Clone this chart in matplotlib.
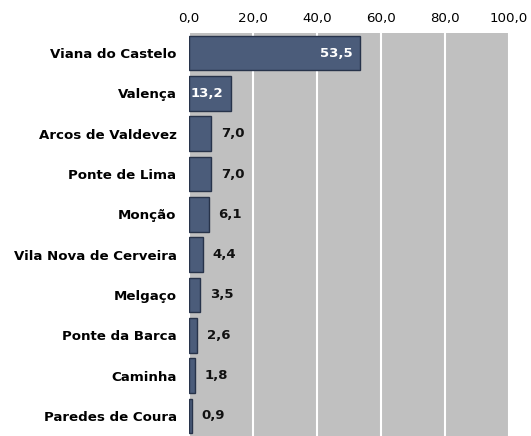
import matplotlib.pyplot as plt
import numpy as np

plt.rcParams['font.family'] = ['DejaVu Sans']

concelhos = ["Viana do Castelo", "Valença", "Arcos de Valdevez", "Ponte de Lima",
             "Monção", "Vila Nova de Cerveira", "Melgaço", "Ponte da Barca",
             "Caminha", "Paredes de Coura"]
valores = [53.5, 13.2, 7.0, 7.0, 6.1, 4.4, 3.5, 2.6, 1.8, 0.9]
xticks = [0, 20, 40, 60, 80, 100]

fig = plt.figure(figsize=(5.31, 4.36), dpi=100)
ax = fig.add_axes([189 / 531, 0.0, 320 / 531, 403 / 436])
ax.set_facecolor("#c0c0c0")

y = np.arange(len(concelhos))
ax.barh(y, valores, height=0.86, color="#4b5c7a", edgecolor="#27334a",
        linewidth=1.0, zorder=3)

def fmt(v):
    return f"{v:.1f}".replace(".", ",")

for yi, v in zip(y, valores):
    if v > 10:
        ax.text(v - 2.4, yi, fmt(v), ha="right", va="center", color="white",
                fontsize=9.5, fontweight="bold", zorder=4)
    else:
        ax.text(v + 3.0, yi, fmt(v), ha="left", va="center", color="#111111",
                fontsize=9.5, fontweight="bold", zorder=4)

ax.set_xlim(0, 100)
ax.set_ylim(len(concelhos) - 0.5, -0.5)
ax.set_yticks(y)
ax.set_yticklabels(concelhos, fontsize=9.6, fontweight="bold")
ax.set_xticks(xticks)
ax.set_xticklabels([fmt(t) for t in xticks], fontsize=9.6)
ax.xaxis.tick_top()
ax.tick_params(axis="both", length=0, pad=9)
ax.tick_params(axis="x", pad=6)
ax.xaxis.grid(True, color="white", linewidth=1.5, zorder=1)
ax.set_axisbelow(True)
for s in ax.spines.values():
    s.set_visible(False)

fig.savefig("out.png", dpi=100, facecolor="white")
plt.close(fig)
